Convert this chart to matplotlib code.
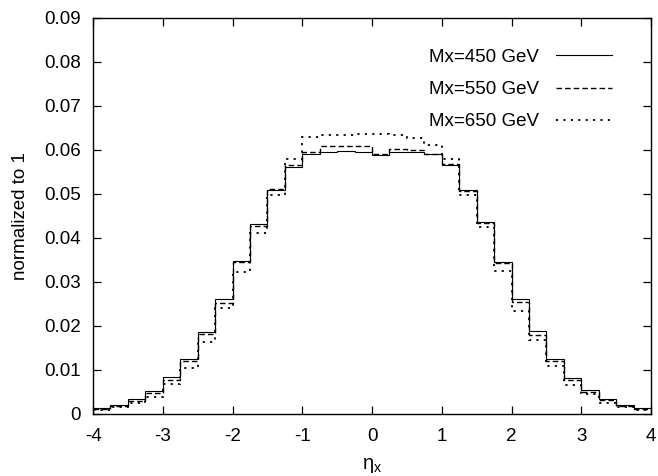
import numpy as np
import matplotlib
matplotlib.use("Agg")
import matplotlib.pyplot as plt

# eta_x bins: 32 bins of width 0.25 between -4 and 4
bin_edges = np.linspace(-4, 4, 33)

mx450 = [0.0013, 0.0020, 0.0033, 0.0052, 0.0083, 0.0125, 0.0187, 0.0261,
         0.0348, 0.0432, 0.0510, 0.0562, 0.0591, 0.0596, 0.0597, 0.0595,
         0.0589, 0.0595, 0.0595, 0.0590, 0.0567, 0.0509, 0.0437, 0.0346,
         0.0261, 0.0189, 0.0125, 0.0081, 0.0055, 0.0033, 0.0020, 0.0013]
mx550 = [0.0011, 0.0019, 0.0030, 0.0048, 0.0077, 0.0120, 0.0181, 0.0253,
         0.0345, 0.0427, 0.0511, 0.0567, 0.0595, 0.0609, 0.0610, 0.0608,
         0.0592, 0.0602, 0.0601, 0.0592, 0.0568, 0.0507, 0.0434, 0.0343,
         0.0255, 0.0180, 0.0121, 0.0077, 0.0051, 0.0031, 0.0018, 0.0011]
mx650 = [0.0009, 0.0016, 0.0024, 0.0038, 0.0068, 0.0105, 0.0164, 0.0240,
         0.0322, 0.0411, 0.0498, 0.0579, 0.0629, 0.0634, 0.0634, 0.0636,
         0.0636, 0.0634, 0.0627, 0.0611, 0.0579, 0.0498, 0.0424, 0.0326,
         0.0235, 0.0168, 0.0110, 0.0066, 0.0045, 0.0026, 0.0017, 0.0009]

labels = ["Mx=450 GeV", "Mx=550 GeV", "Mx=650 GeV"]
xticks = [-4, -3, -2, -1, 0, 1, 2, 3, 4]
yticks = [0, 0.01, 0.02, 0.03, 0.04, 0.05, 0.06, 0.07, 0.08, 0.09]

plt.rcParams['font.family'] = ['Liberation Sans', 'DejaVu Sans']
plt.rcParams['axes.unicode_minus'] = False
plt.rcParams['mathtext.fontset'] = 'custom'
plt.rcParams['mathtext.rm'] = 'Liberation Sans'
plt.rcParams['mathtext.it'] = 'Liberation Sans'

fontsize = 13.5

fig = plt.figure(figsize=(6.58, 4.76), dpi=100)
ax = fig.add_axes([93 / 658, 62 / 476, 558 / 658, 396 / 476])

ax.stairs(mx450, bin_edges, baseline=None, color="black", lw=0.8,
          linestyle="-", label=labels[0])
ax.stairs(mx550, bin_edges, baseline=None, color="black", lw=1.0,
          linestyle=(0, (4.0, 2.2)), label=labels[1])
ax.stairs(mx650, bin_edges, baseline=None, color="black", lw=1.3,
          linestyle=(0, (1.2, 2.9)), label=labels[2])

ax.set_xlim(-4, 4)
ax.set_ylim(0, 0.09)
ax.set_xticks(xticks)
ax.set_xticklabels([str(t) for t in xticks], fontsize=fontsize)
ax.set_yticks(yticks)
ax.set_yticklabels(["0"] + ["%.2f" % t for t in yticks[1:]], fontsize=fontsize)

ax.tick_params(direction="in", length=5.5, width=0.9, top=True, right=True)
ax.tick_params(axis="x", pad=10)
ax.tick_params(axis="y", pad=8.5)
for s in ax.spines.values():
    s.set_linewidth(1.0)

ax.set_ylabel("normalized to 1", fontsize=fontsize, labelpad=11)
ax.set_xlabel(r"$\eta_\mathrm{x}$", fontsize=fontsize + 1, labelpad=8)

ax.legend(loc="upper right", bbox_to_anchor=(0.930, 0.922), frameon=False,
          markerfirst=False, fontsize=fontsize, handlelength=3.0,
          handletextpad=0.9, labelspacing=0.8, borderpad=0, borderaxespad=0)

plt.savefig("out.png", dpi=100)
plt.close()
